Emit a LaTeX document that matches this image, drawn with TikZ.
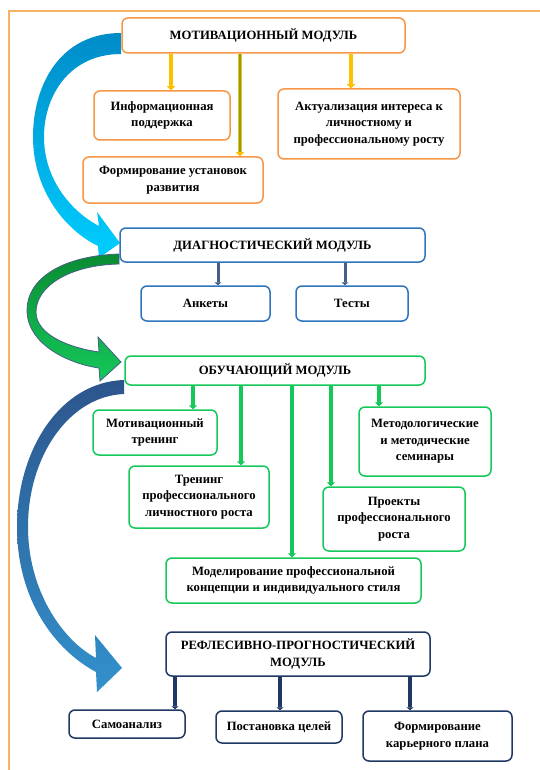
\documentclass[tikz,border=0pt]{standalone}
\usepackage{fontspec}
\setmainfont{Liberation Serif}
\usepackage{tikz}
\usetikzlibrary{arrows.meta}

\definecolor{frameor}{RGB}{248,180,100}
\definecolor{motor}{RGB}{247,150,70}
\definecolor{arryel}{RGB}{255,192,0}
\definecolor{arrolive}{RGB}{120,160,60}
\definecolor{diagblue}{RGB}{46,117,190}
\definecolor{diagarr}{RGB}{70,95,135}
\definecolor{obgreen}{RGB}{20,200,90}
\definecolor{reflnavy}{RGB}{31,56,100}
\definecolor{cyantop}{RGB}{0,140,200}
\definecolor{cyanbot}{RGB}{0,205,255}
\definecolor{greentop}{RGB}{10,140,50}
\definecolor{bluetop}{RGB}{45,85,140}
\definecolor{bluebot}{RGB}{50,145,205}

\tikzset{
    box/.style={draw, rounded corners=6pt, line width=1.5pt, fill=white, align=center,
        inner sep=2pt, font=\bfseries\fontsize{12.7}{16.5}\selectfont},
    obox/.style={box, draw=motor},
    bbox/.style={box, draw=diagblue},
    gbox/.style={box, draw=obgreen},
    nbox/.style={box, draw=reflnavy},
    yarr/.style={draw=arryel, line width=3.5pt, -{Triangle[width=8pt,length=4pt]}},
    barr/.style={draw=diagarr, line width=3pt, -{Triangle[width=7pt,length=3pt]}},
    garr/.style={draw=obgreen, line width=3.5pt, -{Triangle[width=8pt,length=4pt]}},
    narr/.style={draw=reflnavy, line width=3.2pt, -{Triangle[width=7pt,length=3pt]}}
}

\begin{document}
\begin{tikzpicture}[x=1pt, y=-1pt]
    \useasboundingbox (0,0) rectangle (540,770);
    \fill[white] (0,0) rectangle (540,770);
    \draw[frameor, line width=2pt] (9,11) rectangle (560,790); % outer frame

    % big curved arrows
    \shade[top color=cyantop, bottom color=cyanbot] (121,33) .. controls (60,33) and (33,85) .. (33,137)
        .. controls (33,190) and (65,230) .. (98,246) -- (99,258) -- (120,243) -- (97,212) -- (99,226)
        .. controls (72,212) and (44,180) .. (44,137) .. controls (44,95) and (70,54) .. (121,54) -- cycle; % motiv -> diag
    \shade[draw=diagarr, line width=0.8pt, top color=greentop, bottom color=obgreen] (119,254) .. controls (60,256) and (27,280) .. (27,310)
        .. controls (27,345) and (70,364) .. (99,368) -- (100,381) -- (121,362) -- (98,337) -- (99,352)
        .. controls (70,348) and (36,335) .. (36,312) .. controls (36,286) and (70,265) .. (119,264) -- cycle; % diag -> obuch
    \shade[top color=bluetop, bottom color=bluebot] (124,380) .. controls (60,382) and (17,450) .. (17,527)
        .. controls (17,600) and (55,650) .. (96,672) -- (97,692) -- (122,668) -- (95,635) -- (96,658)
        .. controls (62,640) and (28,590) .. (28,527) .. controls (28,455) and (70,396) .. (124,394) -- cycle; % obuch -> refl

    % motivation module
    \node[obox, minimum width=283pt, minimum height=35pt] (motiv) at (263.5,35.5) {МОТИВАЦИОННЫЙ МОДУЛЬ};
    \node[obox, minimum width=136pt, minimum height=49pt] (info) at (162,115.5) {Информационная\\поддержка};
    \node[obox, minimum width=182pt, minimum height=70pt] (aktual) at (369,124) {Актуализация интереса к\\личностному и\\профессиональному росту};
    \node[obox, minimum width=180pt, minimum height=46pt] (ustan) at (173,180) {Формирование установок\\развития};
    \draw[yarr] (motiv.south -| 171,0) -- (info.north -| 171,0);
    \draw[yarr] (motiv.south -| 240,0) -- (ustan.north -| 240,0);
    \draw[arrolive, line width=1.5pt] (motiv.south -| 240,0) -- ([yshift=4pt]ustan.north -| 240,0);
    \draw[yarr] (motiv.south -| 351,0) -- (aktual.north -| 351,0);

    % diagnostic module
    \node[bbox, minimum width=305pt, minimum height=34pt] (diag) at (272.5,245) {ДИАГНОСТИЧЕСКИЙ МОДУЛЬ};
    \node[bbox, minimum width=129pt, minimum height=35pt] (ankety) at (205.5,303.5) {Анкеты};
    \node[bbox, minimum width=112pt, minimum height=35pt] (testy) at (352,303.5) {Тесты};
    \draw[barr] (diag.south -| 218,0) -- (ankety.north -| 218,0);
    \draw[barr] (diag.south -| 345,0) -- (testy.north -| 345,0);

    % learning module
    \node[gbox, minimum width=300pt, minimum height=29pt] (obuch) at (275,370.5) {ОБУЧАЮЩИЙ МОДУЛЬ};
    \node[gbox, minimum width=124pt, minimum height=45pt] (mtren) at (155,432.5) {Мотивационный\\тренинг};
    \node[gbox, minimum width=140pt, minimum height=62pt] (tren) at (199,497) {Тренинг\\профессионального\\личностного роста};
    \node[gbox, minimum width=132pt, minimum height=69pt] (metod) at (425,441.5) {Методологические\\и методические\\семинары};
    \node[gbox, minimum width=142pt, minimum height=64pt] (proekt) at (394,519) {Проекты\\профессионального\\роста};
    \node[gbox, minimum width=255pt, minimum height=45pt] (model) at (293.5,580.5) {Моделирование профессиональной\\концепции и индивидуального стиля};
    \draw[garr] (obuch.south -| 193,0) -- (mtren.north -| 193,0);
    \draw[garr] (obuch.south -| 241,0) -- (tren.north -| 241,0);
    \draw[garr] (obuch.south -| 292,0) -- (model.north -| 292,0);
    \draw[garr] (obuch.south -| 331,0) -- (proekt.north -| 331,0);
    \draw[garr] (obuch.south -| 379,0) -- (metod.north -| 379,0);

    % reflexive module
    \node[nbox, minimum width=264pt, minimum height=44pt] (refl) at (298,654) {РЕФЛЕСИВНО-ПРОГНОСТИЧЕСКИЙ\\МОДУЛЬ};
    \node[nbox, minimum width=116pt, minimum height=28pt] (samo) at (127,724) {Самоанализ};
    \node[nbox, minimum width=126pt, minimum height=32pt] (cel) at (279,727) {Постановка целей};
    \node[nbox, minimum width=149pt, minimum height=50pt] (karier) at (437.5,736) {Формирование\\карьерного плана};
    \draw[narr] (refl.south -| 175,0) -- (samo.north -| 175,0);
    \draw[narr] (refl.south -| 280,0) -- (cel.north -| 280,0);
    \draw[narr] (refl.south -| 410,0) -- (karier.north -| 410,0);
\end{tikzpicture}
\end{document}
